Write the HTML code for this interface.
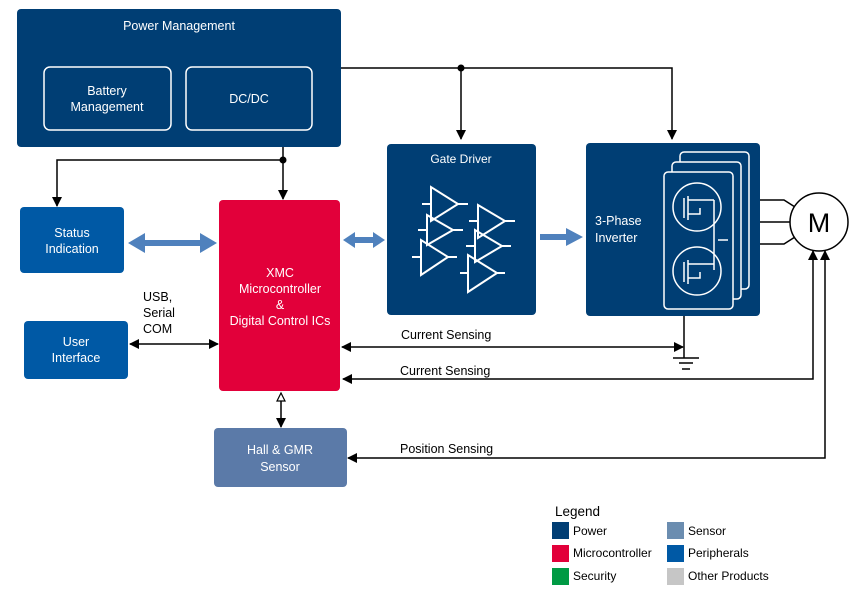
<!DOCTYPE html>
<html><head><meta charset="utf-8"><style>
html,body{margin:0;padding:0;background:#fff;}
svg{display:block;font-family:"Liberation Sans",sans-serif;}
</style></head><body>
<svg width="865" height="596" viewBox="0 0 865 596" xmlns="http://www.w3.org/2000/svg">
<defs>
<marker id="a" markerWidth="10" markerHeight="10" refX="9" refY="5" orient="auto-start-reverse" markerUnits="userSpaceOnUse"><path d="M0,0 L10,5 L0,10 z" fill="#000"/></marker>
</defs>
<rect x="17" y="9" width="324" height="138" rx="4" fill="#003e74"/>
<text x="179" y="30" fill="#fff" font-size="12.5" text-anchor="middle">Power Management</text>
<rect x="44" y="67" width="127" height="63" rx="6" fill="none" stroke="#fff" stroke-width="1.5"/>
<text x="107" y="95" fill="#fff" font-size="12.5" text-anchor="middle">Battery</text>
<text x="107" y="111" fill="#fff" font-size="12.5" text-anchor="middle">Management</text>
<rect x="186" y="67" width="126" height="63" rx="6" fill="none" stroke="#fff" stroke-width="1.5"/>
<text x="249" y="103" fill="#fff" font-size="12.5" text-anchor="middle">DC/DC</text>

<rect x="20" y="207" width="104" height="66" rx="4" fill="#0059a5"/>
<text x="72" y="237" fill="#fff" font-size="12.5" text-anchor="middle">Status</text>
<text x="72" y="253" fill="#fff" font-size="12.5" text-anchor="middle">Indication</text>
<rect x="24" y="321" width="104" height="58" rx="4" fill="#0059a5"/>
<text x="76" y="346" fill="#fff" font-size="12.5" text-anchor="middle">User</text>
<text x="76" y="362" fill="#fff" font-size="12.5" text-anchor="middle">Interface</text>
<rect x="219" y="200" width="121" height="191" rx="4" fill="#e2003a"/>
<text x="280" y="277" fill="#fff" font-size="12.5" text-anchor="middle">XMC</text>
<text x="280" y="293" fill="#fff" font-size="12.5" text-anchor="middle">Microcontroller</text>
<text x="280" y="309" fill="#fff" font-size="12.5" text-anchor="middle">&amp;</text>
<text x="280" y="325" fill="#fff" font-size="12.5" text-anchor="middle">Digital Control ICs</text>
<rect x="214" y="428" width="133" height="59" rx="4" fill="#5b7aa8"/>
<text x="280" y="454" fill="#fff" font-size="12.5" text-anchor="middle">Hall &amp; GMR</text>
<text x="280" y="471" fill="#fff" font-size="12.5" text-anchor="middle">Sensor</text>
<rect x="387" y="144" width="149" height="171" rx="4" fill="#003e74"/>
<text x="461" y="163" fill="#fff" font-size="12" text-anchor="middle">Gate Driver</text>
<g fill="none" stroke="#000" stroke-width="0"></g>
<g fill="none" stroke="#fff" stroke-width="2">
<path d="M431,187 L431,221 L458,204 Z M422,204 L431,204 M458,204 L468,204"/>
<path d="M427,215 L427,245 L453,230 Z M418,230 L427,230 M453,230 L463,230"/>
<path d="M421,240 L421,275 L448,257 Z M412,257 L421,257 M448,257 L457,257"/>
<path d="M478,205 L478,238 L505,221 Z M469,221 L478,221 M505,221 L515,221"/>
<path d="M475,230 L475,262 L502,246 Z M466,246 L475,246 M502,246 L511,246"/>
<path d="M468,255 L468,292 L497,273 Z M460,273 L468,273 M497,273 L505,273"/>
</g>
<rect x="586" y="143" width="174" height="173" rx="4" fill="#003e74"/>
<text x="595" y="225" fill="#fff" font-size="12.5">3-Phase</text>
<text x="595" y="242" fill="#fff" font-size="12.5">Inverter</text>
<g fill="#003e74" stroke="#fff" stroke-width="1.5">
<rect x="680" y="152" width="69" height="137" rx="4"/>
<rect x="672" y="162" width="69" height="137" rx="4"/>
<rect x="664" y="172" width="69" height="137" rx="4"/>
<circle cx="697" cy="207" r="24"/>
<circle cx="697" cy="271" r="24"/>
<path d="M684,198 V218 M688,196 V220 M688,200 H714 M688,214 H700 V208 M714,200 V270" fill="none"/>
<path d="M684,262 V282 M688,260 V284 M688,264 H714 M688,278 H700 V272" fill="none"/>
<path d="M718,240 H728" fill="none"/>
</g>
<g fill="none" stroke="#000" stroke-width="1.5">
<path d="M760,200 H784 L795,207 M760,222 H790 M760,244 H784 L795,237"/>
<circle cx="819" cy="222" r="29" fill="#fff"/>
</g>
<text x="819" y="232" font-size="27" text-anchor="middle">M</text>
<g fill="none" stroke="#000" stroke-width="1.5">
<path d="M341,68 H672 V139" marker-end="url(#a)"/>
<path d="M461,68 V139" marker-end="url(#a)"/>
<path d="M283,147 V199" marker-end="url(#a)"/>
<path d="M283,160 H57 V206" marker-end="url(#a)"/>
<path d="M130,344 H218" marker-start="url(#a)" marker-end="url(#a)"/>
<path d="M342,347 H683" marker-start="url(#a)" marker-end="url(#a)"/>
<path d="M684,316 V358 M673,358 H699 M679,363 H693 M682,369 H690"/>
<path d="M343,379 H813 V251" marker-start="url(#a)" marker-end="url(#a)"/>
<path d="M348,458 H825 V251" marker-start="url(#a)" marker-end="url(#a)"/>
<path d="M281,400 V427" marker-end="url(#a)"/>
</g>
<path d="M277,401 L281,393 L285,401 Z" fill="#fff" stroke="#000" stroke-width="1.2"/>
<circle cx="461" cy="68" r="3.5"/>
<circle cx="283" cy="160" r="3.5"/>
<g fill="#4f81bd">
<path d="M128,243 L145,233 L145,240 L200,240 L200,233 L217,243 L200,253 L200,246 L145,246 L145,253 Z"/>
<path d="M343,240 L355,232 L355,237 L373,237 L373,232 L385,240 L373,248 L373,243 L355,243 L355,248 Z"/>
<path d="M540,234 L566,234 L566,228 L583,237 L566,246 L566,240 L540,240 Z"/>
</g>
<g font-size="12.5" fill="#000">
<text x="143" y="301">USB,</text>
<text x="143" y="317">Serial</text>
<text x="143" y="333">COM</text>
<text x="401" y="339">Current Sensing</text>
<text x="400" y="375">Current Sensing</text>
<text x="400" y="453">Position Sensing</text>
</g>
<g font-size="12" fill="#000">
<text x="555" y="516" font-size="13.5">Legend</text>
<rect x="552" y="522" width="17" height="17" fill="#003e74"/><text x="573" y="535">Power</text>
<rect x="552" y="545" width="17" height="17" fill="#e2003a"/><text x="573" y="557">Microcontroller</text>
<rect x="552" y="568" width="17" height="17" fill="#009a44"/><text x="573" y="580">Security</text>
<rect x="667" y="522" width="17" height="17" fill="#6b8db0"/><text x="688" y="535">Sensor</text>
<rect x="667" y="545" width="17" height="17" fill="#0059a5"/><text x="688" y="557">Peripherals</text>
<rect x="667" y="568" width="17" height="17" fill="#c6c6c6"/><text x="688" y="580">Other Products</text>
</g>
</svg>
</body></html>
